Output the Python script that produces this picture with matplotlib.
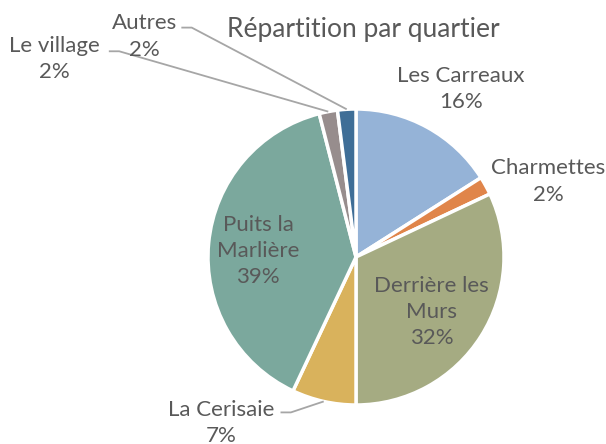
import numpy as np
import matplotlib
matplotlib.use("Agg")
import matplotlib.pyplot as plt

# data, clockwise from 12 o'clock
quartiers = ["Les Carreaux", "Charmettes", "Derrière les\nMurs", "La Cerisaie",
             "Puits la\nMarlière", "Le village", "Autres"]
parts = [16, 2, 32, 7, 39, 2, 2]
colors = ["#95B3D7", "#E0854A", "#A5AB82", "#D9B25C", "#7BA89D", "#978D8D", "#3F6E97"]

# label centres, in pie-radius units relative to the pie centre
label_pos = [(0.71, 1.135), (1.30, 0.51), (0.51, -0.37), (-0.91, -1.12),
             (-0.66, 0.04), (-2.04, 1.34), (-1.43, 1.49)]
# which labels get a leader line (index -> text anchor offset)
leaders = {3: (0.40, 0.07), 5: (0.37, 0.05), 6: (0.25, 0.06)}

TXT = "#595959"
plt.rcParams["font.family"] = ["Lato", "DejaVu Sans"]

fig = plt.figure(figsize=(6.06, 4.44), dpi=100)
R = 148
cx, cy = 356, 444 - 257
ax = fig.add_axes([(cx - R) / 606, (cy - R) / 444, 2 * R / 606, 2 * R / 444])

wedges, _ = ax.pie(parts, colors=colors, startangle=90, counterclock=False,
                   wedgeprops=dict(edgecolor="white", linewidth=2.5))
ax.set_xlim(-1, 1)
ax.set_ylim(-1, 1)
ax.set_aspect("equal")
ax.axis("off")

for i, (name, p) in enumerate(zip(quartiers, parts)):
    x, y = label_pos[i]
    ax.text(x, y, f"{name}\n{p}%", ha="center", va="center", fontsize=16,
            color=TXT, linespacing=1.38, clip_on=False)
    if i in leaders:
        w = wedges[i]
        mid = np.deg2rad((w.theta1 + w.theta2) / 2)
        ex, ey = np.cos(mid), np.sin(mid)
        dx, dy = leaders[i]
        sx = x + dx
        sy = y + dy
        ax.plot([sx, sx + 0.07, ex], [sy, sy, ey], color="#A6A6A6", lw=1.3,
                clip_on=False, solid_capstyle="butt")

fig.text(363 / 606, 1 - 30 / 444, "Répartition par quartier", ha="center", va="center",
         fontsize=19, color=TXT)

fig.savefig("out.png", dpi=100)
